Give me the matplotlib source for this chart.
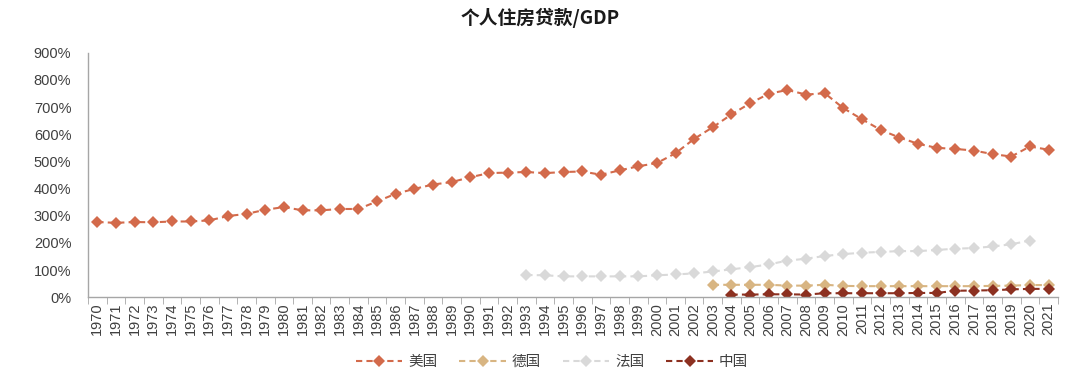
import matplotlib
matplotlib.use("Agg")
import matplotlib.pyplot as plt
from matplotlib.ticker import FixedLocator, PercentFormatter
import numpy as np

plt.rcParams['font.family'] = ['Liberation Sans', 'Noto Sans CJK SC', 'DejaVu Sans']

years = list(range(1970, 2022))
title = "个人住房贷款/GDP"

us = [277, 274, 277, 276, 279, 279, 283, 299, 307, 322,
      332, 320, 320, 325, 325, 353, 381, 399, 415, 424,
      442, 457, 459, 461, 457, 461, 463, 451, 467, 482,
      494, 530, 583, 626, 673, 714, 749, 763, 746, 751,
      696, 655, 616, 588, 565, 550, 546, 540, 527, 518,
      555, 543]

fr_years = list(range(1993, 2021))
france = [82, 81, 77, 77, 77, 77, 77, 81, 84, 88,
          95, 103, 111, 121, 135, 142, 152, 159, 164, 167,
          170, 170, 174, 179, 181, 187, 195, 209]

de_years = list(range(2003, 2022))
germany = [46, 46, 46, 46, 43, 43, 46, 42, 41, 41,
           41, 41, 41, 41, 41, 42, 43, 45, 45]

cn_years = list(range(2004, 2022))
china = [10, 10, 11, 11, 10, 15, 15, 15, 15, 15,
         16, 16, 24, 25, 26, 29, 31, 31]

series = [
    ("美国", years, us, "#D36A4B"),
    ("德国", de_years, germany, "#D8B582"),
    ("法国", fr_years, france, "#D9D9D9"),
    ("中国", cn_years, china, "#8C3020"),
]

fig = plt.figure(figsize=(10.8, 3.78), dpi=100)
ax = fig.add_axes([0.0815, 0.2135, 0.898, 0.647])

idx = {y: i for i, y in enumerate(years)}
for name, ys, vals, col in series:
    xs = [idx[y] for y in ys]
    ax.plot(xs, vals, linestyle=(0, (3, 2)), color=col, linewidth=1.5,
            marker='D', markersize=6, markeredgewidth=0, label=name)

ax.set_xlim(-0.5, len(years) - 0.5)
ax.set_ylim(0, 900)
ax.set_yticks(np.arange(0, 901, 100))
ax.yaxis.set_major_formatter(PercentFormatter(decimals=0))
ax.set_xticks(range(len(years)))
ax.set_xticklabels([str(y) for y in years], rotation=90)
ax.xaxis.set_minor_locator(FixedLocator(np.arange(-0.5, len(years), 1)))
ax.tick_params(axis='x', which='major', length=0, labelsize=10.5, colors='#404040', pad=4)
ax.tick_params(axis='x', which='minor', length=5, color='#A6A6A6')
ax.tick_params(axis='y', length=0, labelsize=10.5, colors='#404040', pad=12)

for s in ['top', 'right']:
    ax.spines[s].set_visible(False)
for s in ['left', 'bottom']:
    ax.spines[s].set_color('#A6A6A6')
    ax.spines[s].set_linewidth(1)

fig.suptitle(title, x=0.5, y=0.98, fontsize=13.5, fontweight='bold',
             family=['Noto Sans CJK SC', 'DejaVu Sans'], color='#1a1a1a')

leg = fig.legend(loc='center', bbox_to_anchor=(0.511, 0.043), ncol=4, frameon=False,
                 handlelength=3.2, columnspacing=1.5, handletextpad=0.4,
                 prop={'family': ['Noto Sans CJK SC', 'DejaVu Sans'], 'size': 10.5})
for t in leg.get_texts():
    t.set_color('#404040')

fig.savefig("out.png", dpi=100)
